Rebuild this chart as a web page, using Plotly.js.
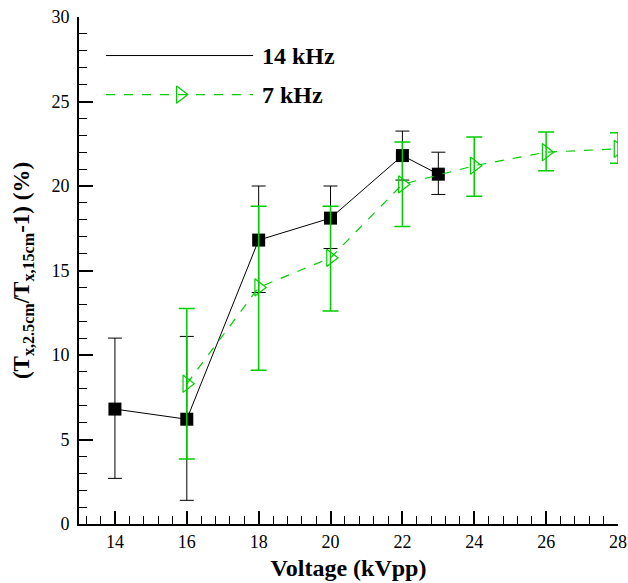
<!DOCTYPE html>
<html>
<head>
<meta charset="utf-8">
<script src="https://cdn.plot.ly/plotly-3.0.1.min.js"></script>
<style>html,body{margin:0;padding:0;background:#fff;}#chart{width:628px;height:583px;}</style>
</head>
<body>
<div id="chart"></div>
<script>
// ---- data ----
const x14 = [14, 16, 18, 20, 22, 23];
const y14 = [6.8, 6.2, 16.8, 18.1, 21.8, 20.7];
const err14Plus = [4.2, 4.9, 3.2, 1.9, 1.45, 1.3];
const err14Minus = [4.1, 4.8, 3.1, 1.8, 1.45, 1.2];

const x7 = [16, 18, 20, 22, 24, 26, 28];
const y7 = [8.3, 14.0, 15.75, 20.1, 21.2, 22.0, 22.2];
const err7Plus = [4.45, 4.8, 3.05, 2.5, 1.7, 1.2, 0.95];
const err7Minus = [4.45, 4.9, 3.15, 2.5, 1.8, 1.1, 0.85];

const seriesNames = ['14 kHz', '7 kHz'];
const xTickVals = [14, 16, 18, 20, 22, 24, 26, 28];
const yTickVals = [0, 5, 10, 15, 20, 25, 30];

const GREEN = '#00cc00';
const FONT = 'Liberation Serif';

const traces = [
  {
    x: x14, y: y14, type: 'scatter', mode: 'lines+markers', name: seriesNames[0],
    line: {color: '#000', width: 1},
    marker: {symbol: 'square', size: 13, color: '#000'},
    error_y: {type: 'data', symmetric: false, array: err14Plus, arrayminus: err14Minus,
              color: '#000', thickness: 1, width: 7},
    showlegend: false
  },
  {
    x: x7, y: y7, type: 'scatter', mode: 'lines+markers', name: seriesNames[1],
    line: {color: GREEN, width: 1.2, dash: '9px,9px'},
    marker: {symbol: 'triangle-right-open', size: 15, color: GREEN, line: {color: GREEN, width: 1.2}},
    error_y: {type: 'data', symmetric: false, array: err7Plus, arrayminus: err7Minus,
              color: GREEN, thickness: 1.5, width: 8},
    showlegend: false
  },
  // legend sample marker (overlay axis 0..1)
  {
    x: [0.188], y: [0.847], xaxis: 'x2', yaxis: 'y2', type: 'scatter', mode: 'markers',
    marker: {symbol: 'triangle-right-open', size: 15, color: GREEN, line: {color: GREEN, width: 1.2}},
    showlegend: false, hoverinfo: 'skip'
  }
];

const layout = {
  width: 628, height: 583,
  margin: {l: 79, r: 10, t: 17, b: 59},
  paper_bgcolor: '#fff', plot_bgcolor: '#fff',
  font: {family: FONT, size: 18, color: '#000'},
  showlegend: false,
  xaxis: {
    range: [13, 28], tickvals: xTickVals, ticktext: xTickVals.map(String),
    ticks: 'inside', ticklen: 13, tickwidth: 2, tickcolor: '#000',
    showline: true, linewidth: 2, linecolor: '#000', mirror: false,
    showgrid: false, zeroline: false,
    tickfont: {family: FONT, size: 18, color: '#000'},
    minor: {dtick: 0.4, tick0: 14, ticks: 'inside', ticklen: 8, tickwidth: 1, tickcolor: '#000', showgrid: false},
    title: {text: '<b>Voltage (kVpp)</b>', font: {family: FONT, size: 24, color: '#000'}, standoff: 9}
  },
  yaxis: {
    range: [0, 30], tickvals: yTickVals, ticktext: yTickVals.map(String),
    ticks: 'inside', ticklen: 14, tickwidth: 2, tickcolor: '#000',
    showline: true, linewidth: 2, linecolor: '#000',
    showgrid: false, zeroline: false,
    tickfont: {family: FONT, size: 18, color: '#000'},
    ticklabelstandoff: 4,
    minor: {dtick: 1, ticks: 'inside', ticklen: 8, tickwidth: 1, tickcolor: '#000', showgrid: false},
    title: {text: '<b>(T<sub>x,2.5cm</sub>/T<sub>x,15cm</sub>-1) (%)</b>', font: {family: FONT, size: 23, color: '#000'}, standoff: 15}
  },
  xaxis2: {overlaying: 'x', range: [0, 1], visible: false, fixedrange: true},
  yaxis2: {overlaying: 'y', range: [0, 1], visible: false, fixedrange: true},
  shapes: [
    {type: 'line', xref: 'paper', yref: 'paper', x0: 0.05, x1: 0.323, y0: 0.924, y1: 0.924,
     line: {color: '#000', width: 1}},
    {type: 'line', xref: 'paper', yref: 'paper', x0: 0.05, x1: 0.323, y0: 0.847, y1: 0.847,
     line: {color: GREEN, width: 1.2, dash: '9px,9px'}}
  ],
  annotations: [
    {xref: 'paper', yref: 'paper', x: 0.336, y: 0.924, xanchor: 'left', yanchor: 'middle',
     text: '<b>' + seriesNames[0] + '</b>', showarrow: false, font: {family: FONT, size: 24, color: '#000'}},
    {xref: 'paper', yref: 'paper', x: 0.336, y: 0.847, xanchor: 'left', yanchor: 'middle',
     text: '<b>' + seriesNames[1] + '</b>', showarrow: false, font: {family: FONT, size: 24, color: '#000'}}
  ]
};

Plotly.newPlot('chart', traces, layout, {displayModeBar: false, staticPlot: true});
</script>
</body>
</html>
